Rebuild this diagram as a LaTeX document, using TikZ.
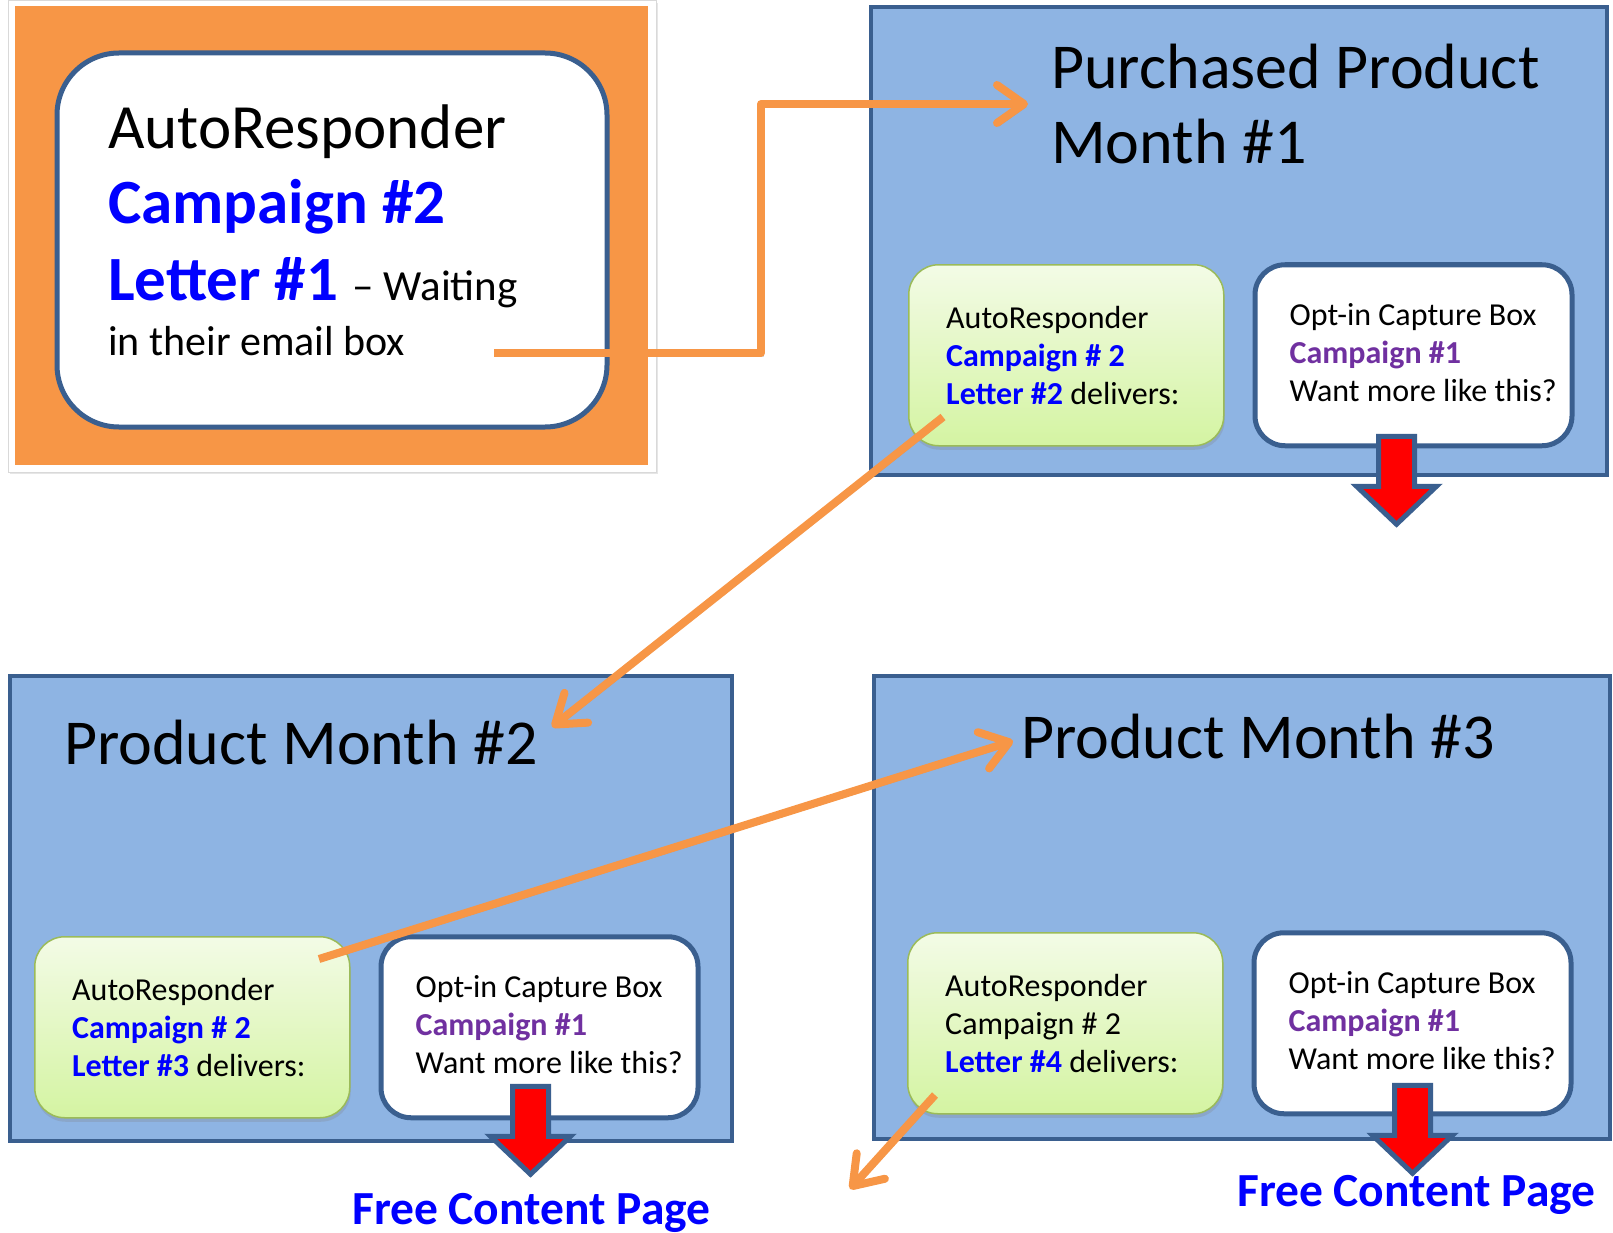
\documentclass[tikz,border=0pt]{standalone}
\usepackage{fontspec}
\setmainfont{Carlito}
\usepackage{xcolor}
\usetikzlibrary{arrows.meta,positioning,calc,fit,shadows}
\definecolor{Tangerine}{HTML}{F79646}
\definecolor{Sky}{HTML}{8EB4E3}
\definecolor{Navy}{HTML}{3A5F8F}
\definecolor{LimeTop}{HTML}{F3FBE6}
\definecolor{LimeBottom}{HTML}{D4F4A2}
\definecolor{Olive}{HTML}{9BBB59}
\definecolor{Royal}{HTML}{0000FF}
\definecolor{Violet}{HTML}{7030A0}
\definecolor{Signal}{HTML}{FF0000}
\newcommand{\sized}[2]{\fontsize{#1}{#2}\selectfont}
\tikzset{
  panel/.style={draw=Navy,line width=4pt,fill=Sky,inner sep=0pt},
  letterbox/.style={draw=Navy,line width=5pt,fill=white,rounded corners=62pt,inner sep=0pt},
  leaf/.style={
    draw=Olive,line width=1.5pt,top color=LimeTop,bottom color=LimeBottom,
    rounded corners=30pt,minimum width=315pt,minimum height=181pt,
    drop shadow={opacity=0.25,shadow xshift=1pt,shadow yshift=-4pt}
  },
  optin/.style={
    draw=Navy,line width=5pt,fill=white,rounded corners=30pt,
    minimum width=317pt,minimum height=181pt
  },
  boxtext/.style={anchor=west,align=left,inner sep=0pt,font=\sized{32}{38}},
  title/.style={anchor=base west,align=left,inner sep=0pt,font=\sized{64}{75}},
  freepage/.style={anchor=base west,inner sep=0pt,font=\sized{47.5}{58}\bfseries,text=Royal},
  link/.style={
    draw=Tangerine,line width=8pt,line join=round,
    -{Straight Barb[length=27pt,width=38pt,round]},
    preaction={draw=black,opacity=0.15,transform canvas={shift={(2pt,-3pt)}}}
  },
  pics/dropper/.style={code={
    \draw[draw=Navy,line width=5pt,fill=Signal]
      (-18,0) -- (18,0) -- (18,50) -- (40,50) -- (0,88) -- (-40,50) -- (-18,50) -- cycle;
  }}
}

\begin{document}
\begin{tikzpicture}[x=1pt,y=-1pt,node distance=28pt]
  \useasboundingbox (0,0) rectangle (1613,1233);

  \node[fill=white,draw=black!15,line width=1pt,inner sep=0pt,
    drop shadow={opacity=0.2,shadow xshift=2pt,shadow yshift=-2pt},
    fit={(8,1)(656,472)}] (frame) {};
  \node[fill=Tangerine,inner sep=0pt,fit={(15,6)(648,465)}] (card) {};
  \node[letterbox,fit={(57,53)(607,427)}] (letter) {};
  \node[title,font=\sized{63}{75}] (ar0) at (108,149) {AutoResponder};
  \node[title,font=\sized{63}{75}\bfseries,text=Royal] (ar1) at ([yshift=-75pt]ar0.base west) {Campaign \#2};
  \node[title,font=\sized{63}{75}] (ar2) at ([yshift=-76pt]ar1.base west) {\textcolor{Royal}{\bfseries Letter \#1} {\sized{43}{50}-- Waiting}};
  \node[title,font=\sized{42}{50}] (ar3) at ([yshift=-55pt]ar2.base west) {in their email box};

  \node[panel,fit={(871,7)(1607,475)}] (month1) {};
  \node[title] (title1) at (1051,164) {Purchased Product\\Month \#1};
  \node[leaf,anchor=north west] (leaf1) at (908,264) {};
  \node[optin,right=of leaf1] (opt1) {};
  \node[boxtext] (leaf1text) at ([xshift=38pt]leaf1.west)
    {AutoResponder\\\textcolor{Royal}{\bfseries Campaign \# 2}\\\textcolor{Royal}{\bfseries Letter \#2} delivers:};
  \node[boxtext] (opt1text) at ([xshift=37pt,yshift=3pt]opt1.west)
    {Opt-in Capture Box\\\textcolor{Violet}{\bfseries Campaign \#1}\\Want more like this?};
  \pic at ($(opt1.south)+(-17,-12)$) {dropper};

  \node[panel,fit={(10,676)(732,1141)}] (month2) {};
  \node[title] (title2) at (64,764) {Product Month \#2};
  \node[leaf,anchor=north west] (leaf2) at (34,936) {};
  \node[optin,right=of leaf2] (opt2) {};
  \node[boxtext] (leaf2text) at ([xshift=38pt]leaf2.west)
    {AutoResponder\\\textcolor{Royal}{\bfseries Campaign \# 2}\\\textcolor{Royal}{\bfseries Letter \#3} delivers:};
  \node[boxtext] (opt2text) at ([xshift=37pt,yshift=3pt]opt2.west)
    {Opt-in Capture Box\\\textcolor{Violet}{\bfseries Campaign \#1}\\Want more like this?};
  \pic at ($(opt2.south)+(-9,-34)$) {dropper};
  \node[freepage] (free2) at (352,1224) {Free Content Page};

  \node[panel,fit={(874,676)(1610,1139)}] (month3) {};
  \node[title] (title3) at (1021,758) {Product Month \#3};
  \node[leaf,anchor=north west] (leaf3) at (907,932) {};
  \node[optin,right=of leaf3] (opt3) {};
  \node[boxtext] (leaf3text) at ([xshift=38pt]leaf3.west)
    {AutoResponder\\Campaign \# 2\\\textcolor{Royal}{\bfseries Letter \#4} delivers:};
  \node[boxtext] (opt3text) at ([xshift=37pt,yshift=3pt]opt3.west)
    {Opt-in Capture Box\\\textcolor{Violet}{\bfseries Campaign \#1}\\Want more like this?};
  \pic at ($(opt3.south)+(0,-31)$) {dropper};
  \node[freepage] (free3) at (1237,1206) {Free Content Page};

  \coordinate (lead0) at (494,353);
  \coordinate (lead1) at (1028,104);
  \coordinate (lead2) at (943,417);
  \coordinate (lead3) at (552,727);
  \coordinate (lead4) at (319,959);
  \coordinate (lead5) at (1013,741);
  \coordinate (lead6) at (935,1095);
  \coordinate (lead7) at (850,1189);
  \draw[link] (lead0) -| ($(lead0)!.5!(lead1)$) |- (lead1);
  \draw[link] (lead2) -- (lead3);
  \draw[link] (lead4) -- (lead5);
  \draw[link] (lead6) -- (lead7);
\end{tikzpicture}
\end{document}
